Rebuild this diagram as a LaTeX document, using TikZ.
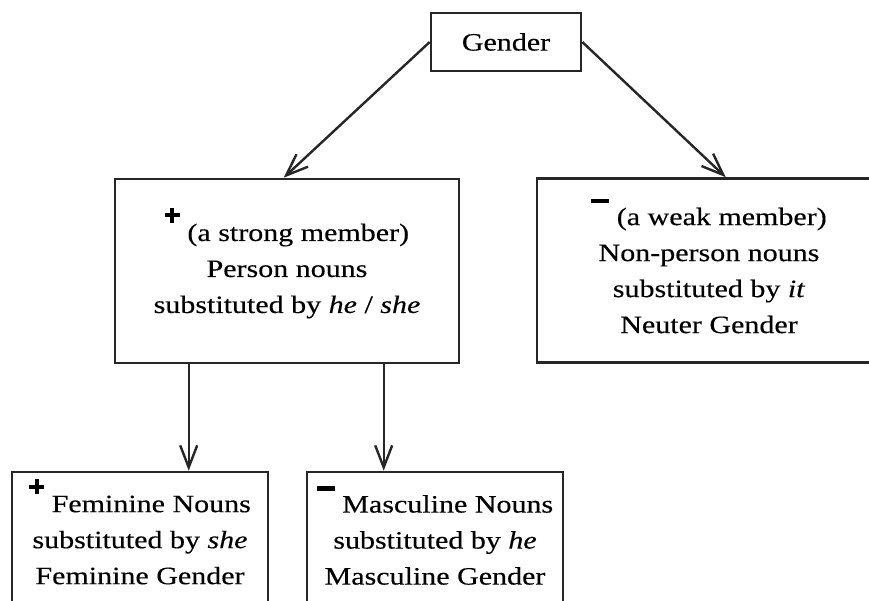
\documentclass[tikz,border=0pt]{standalone}
\usepackage{fontspec}
\setmainfont{Liberation Serif}[FakeStretch=1.2, FakeBold=0.3]
\usetikzlibrary{arrows.meta}

% raised signs in front of the first line of a box
\newcommand{\strongmark}{\smash{\raisebox{18pt}{\rlap{\rule[5.5pt]{15pt}{4pt}}\hspace{5.5pt}\rule{4pt}{15pt}\hspace{5.5pt}}}}
\newcommand{\weakmark}{\smash{\rule[22pt]{18pt}{4.5pt}}}

\begin{document}
\begin{tikzpicture}[x=1pt, y=1pt,
    box/.style={draw=black!85, line width=2.6pt, inner sep=0pt, align=center,
                font=\fontsize{25}{36}\selectfont},
    link/.style={draw=black!85, line width=2.4pt,
                 -{Straight Barb[length=22pt, width=17pt]}}]
    % Define dimensions of the boxes
    \def\bigw{344}  % upper boxes
    \def\bigh{184}
    \def\smallw{256} % lower boxes
    \def\smallh{136}

    \useasboundingbox (0,0) rectangle (869,-600);

    % Top box
    \node[box, minimum width=150, minimum height=58] (gender) at (506,-42) {Gender};

    % Upper row
    \node[box, minimum width=\bigw, minimum height=\bigh] (strong) at (287,-271)
        {\strongmark\ (a strong member)\\ Person nouns\\ substituted by \textit{he} / \textit{she}};
    \node[box, minimum width=\bigw, minimum height=\bigh] (weak) at (709,-270.5)
        {\weakmark\ (a weak member)\\ Non-person nouns\\ substituted by \textit{it}\\ Neuter Gender};

    % Lower row, cut by the page edge
    \node[box, minimum width=\smallw, minimum height=\smallh] (fem) at (140,-540)
        {\strongmark\ Feminine Nouns\\ substituted by \textit{she}\\ Feminine Gender};
    \node[box, minimum width=\smallw, minimum height=\smallh] (masc) at (435,-540)
        {\weakmark\ Masculine Nouns\\ substituted by \textit{he}\\ Masculine Gender};

    % Arrows
    \draw[link] (gender.west) -- ([xshift=170pt]strong.north west);
    \draw[link] (gender.east) -- ([xshift=190pt]weak.north west);
    \draw[link] ([xshift=75pt]strong.south west) -- ([xshift=75pt]strong.south west |- fem.north);
    \draw[link] ([xshift=270pt]strong.south west) -- ([xshift=270pt]strong.south west |- masc.north);
\end{tikzpicture}
\end{document}
